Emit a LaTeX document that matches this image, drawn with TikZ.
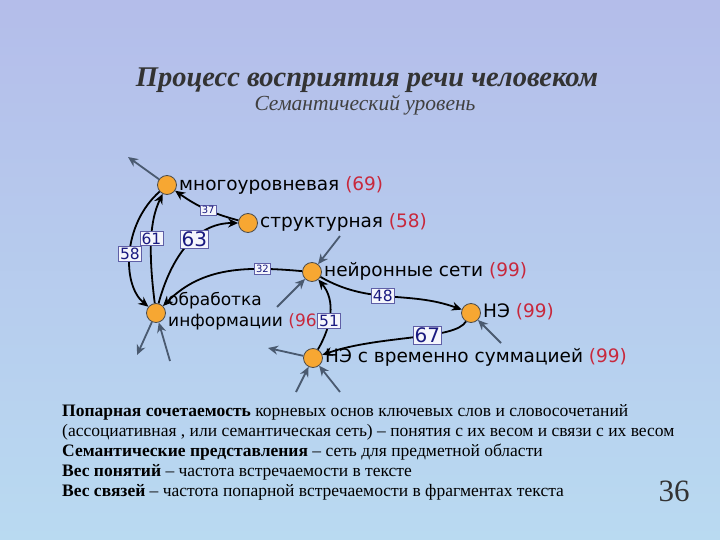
\documentclass[tikz,border=0pt]{standalone}
\usepackage{fontspec}
\setmainfont{Liberation Serif}
\newfontfamily\gsans{DejaVu Sans}
\usetikzlibrary{arrows.meta}
\definecolor{bgtop}{HTML}{B4BDEA}
\definecolor{bgbot}{HTML}{B9DAF1}
\definecolor{nodeor}{HTML}{F7A732}
\definecolor{numred}{HTML}{C8283C}
\definecolor{lblue}{HTML}{1A1A80}
\definecolor{garrow}{HTML}{4A5A70}
\tikzset{
 vert/.style={circle,fill=nodeor,draw=black!70,line width=0.8pt,minimum size=19pt,inner sep=0pt},
 lab/.style={font=\gsans\fontsize{18.5}{20}\selectfont,anchor=west,align=left,inner sep=1pt},
 edge/.style={line width=1.8pt,-{Stealth[length=10pt,width=9pt]}},
 gr/.style={line width=1.8pt,garrow,-{Stealth[length=10pt,width=9pt]}},
 wt/.style={fill=white!85!bgtop,draw=lblue!70,line width=0.5pt,text=lblue,inner sep=1.5pt,font=\gsans\fontsize{15.5}{16}\selectfont},
 wts/.style={wt,font=\gsans\fontsize{10}{11}\selectfont},
 wtb/.style={wt,font=\gsans\fontsize{20}{21}\selectfont},
 body/.style={font=\fontsize{17.5}{20}\selectfont,anchor=north west,align=left,inner sep=0pt}
}
\begin{document}
\begin{tikzpicture}[x=1pt,y=-1pt]
\shade[top color=bgtop,bottom color=bgbot] (0,0) rectangle (720,540);
\useasboundingbox (0,0) rectangle (720,540);
\node[font=\bfseries\itshape\fontsize{28.5}{32}\selectfont,text=black!80] (t) at (367,80) {Процесс восприятия речи человеком};
\node[font=\itshape\fontsize{21.5}{24}\selectfont,text=black!75] (st) at (365,105) {Семантический уровень};

\node[vert] (A) at (167,185) {};
\node[vert] (B) at (248,223) {};
\node[vert] (C) at (312,272) {};
\node[vert] (D) at (156,313) {};
\node[vert] (E) at (471,313) {};
\node[vert] (F) at (313,358) {};

\node[lab] (lA) at (178,185) {многоуровневая \textcolor{numred}{(69)}};
\node[lab] (lB) at (259,222) {структурная \textcolor{numred}{(58)}};
\node[lab] (lC) at (323,271) {нейронные сети \textcolor{numred}{(99)}};
\node[lab,font=\gsans\fontsize{17}{21}\selectfont] (lD) at (167,311) {обработка\\информации \textcolor{numred}{(96)}};
\node[lab] (lE) at (482,312) {НЭ \textcolor{numred}{(99)}};
\node[lab] (lF) at (324,357) {НЭ с временно суммацией \textcolor{numred}{(99)}};

\draw[edge] (B) to[bend left=10] node[wts,pos=0.45] {37} (A);
\draw[edge] (D) to[out=75,in=180] node[wtb,pos=0.6] {63} (B);
\draw[edge] (D) .. controls (148,250) and (150,220) .. node[wt,pos=0.5] {61} (A);
\draw[edge] (A) .. controls (122,225) and (122,285) .. node[wt,pos=0.5] {58} (D);
\draw[edge] (C) to[out=175,in=45] node[wts,pos=0.25] {32} (D);
\draw[edge] (C) to[out=-30,in=160] node[wt,pos=0.45] {48} (E);
\draw[edge] (F) to[out=60,in=-50] node[wt,pos=0.4] {51} (C);
\draw[edge] (E) .. controls (455,340) and (380,335) .. node[wtb,pos=0.4] {67} (F);

\coordinate (gA) at (128,157);
\coordinate (gC1) at (340,236);
\coordinate (gC2) at (277,307);
\coordinate (gD1) at (137,355);
\coordinate (gD2) at (170,361);
\coordinate (gE) at (501,343);
\coordinate (gF0) at (268,348);
\coordinate (gF1) at (296,392);
\coordinate (gF2) at (340,392);
\draw[gr] (A) -- (gA);
\draw[gr] (gC1) -- (C);
\draw[gr] (gC2) -- (C);
\draw[gr] (D) -- (gD1);
\draw[gr] (gD2) -- (D);
\draw[gr] (gE) -- (E);
\draw[gr] (F) -- (gF0);
\draw[gr] (gF1) -- (F);
\draw[gr] (gF2) -- (F);

\node[body] (txt) at (62,404) {\textbf{Попарная сочетаемость} корневых основ ключевых слов и словосочетаний\\
(ассоциативная , или семантическая сеть) – понятия с их весом и связи с их весом\\
\textbf{Семантические представления} – сеть для предметной области\\
\textbf{Вес понятий} – частота встречаемости в тексте\\
\textbf{Вес связей} – частота попарной встречаемости в фрагментах текста};
\node[font=\fontsize{31}{33}\selectfont,text=black!80] (pg) at (674,491) {36};
\end{tikzpicture}
\end{document}
